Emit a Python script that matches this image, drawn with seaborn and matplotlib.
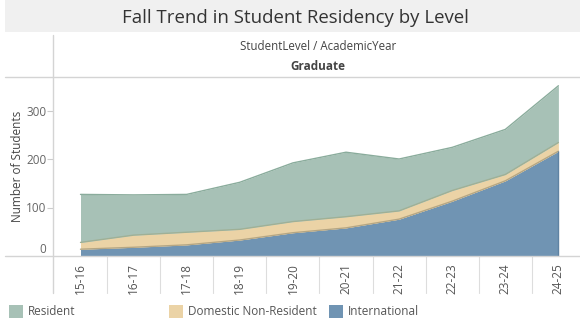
import numpy as np
import pandas as pd
import seaborn as sns
import matplotlib
matplotlib.use("Agg")
import matplotlib.pyplot as plt
from matplotlib.lines import Line2D
from matplotlib.patches import Rectangle
import matplotlib.transforms as mtransforms

years = ["15-16", "16-17", "17-18", "18-19", "19-20", "20-21", "21-22", "22-23", "23-24", "24-25"]
international = [14, 18, 23, 33, 48, 58, 76, 113, 155, 216]
domestic_nonres = [14, 25, 26, 22, 23, 23, 17, 22, 13, 18]
resident = [99, 83, 78, 97, 121, 133, 107, 89, 93, 117]
series_names = ["Resident", "Domestic Non-Resident", "International"]
y_ticks = [0, 100, 200, 300]

fill_colors = {"Resident": "#a7c1b6", "Domestic Non-Resident": "#ebd3a6", "International": "#7094b3"}
edge_colors = {"Resident": "#8aac9c", "Domestic Non-Resident": "#9fb096", "International": "#b5a683"}

sns.set_theme(style="white")
plt.rcParams["font.family"] = ["Open Sans", "DejaVu Sans"]

W, H = 580, 330
fig = plt.figure(figsize=(W / 100, H / 100), dpi=100)

def fx(px):
    return px / W

def fy(py):
    return 1 - py / H

left, right, top, bottom = 53, 580, 77, 256
ax = fig.add_axes([fx(left), fy(bottom), fx(right - left), fy(top) - fy(bottom)])

x = np.arange(len(years))
intl = np.array(international, dtype=float)
dom_top = intl + np.array(domestic_nonres, dtype=float)
res_top = dom_top + np.array(resident, dtype=float)

ax.stackplot(x, intl, np.array(domestic_nonres), np.array(resident),
             colors=[fill_colors["International"], fill_colors["Domestic Non-Resident"], fill_colors["Resident"]],
             linewidth=0)

tops = pd.DataFrame({"year": x, "International": intl, "Domestic Non-Resident": dom_top, "Resident": res_top})
for name in ["International", "Domestic Non-Resident", "Resident"]:
    sns.lineplot(data=tops, x="year", y=name, ax=ax, color=edge_colors[name], linewidth=1.0)
ax.vlines(x[-1], 0, intl[-1], color="#5f83a3", linewidth=1.0)

x_per_px = 1 / 53.1
ax.set_xlim(-(80.5 - left) * x_per_px, (right - 80.5) * x_per_px)
ax.set_ylim(0, (bottom - top) / 0.485)
ax.set_xticks(x)
ax.set_xticklabels(years, rotation=90, fontsize=8.5, color="#555555")
ax.set_yticks(y_ticks)
ax.set_yticklabels([str(v) for v in y_ticks], fontsize=8.5, color="#666666")
ax.tick_params(axis="x", length=0, pad=5)
ax.tick_params(axis="y", length=4.3, width=0.8, color="#cccccc", pad=0.5, left=True)
for lab in ax.get_xticklabels():
    lab.set_verticalalignment("top")
# the zero label sits just above the baseline, without a tick mark
ax.yaxis.get_major_ticks()[0].tick1line.set_visible(False)
zero_lab = ax.get_yticklabels()[0]
zero_lab.set_transform(zero_lab.get_transform() + mtransforms.ScaledTranslation(0, 8 / 100, fig.dpi_scale_trans))
ax.set_xlabel("")
ax.set_ylabel("Number of Students", fontsize=8.5, color="#444444", labelpad=1.5)
for s in ax.spines.values():
    s.set_visible(False)

# category separators beneath the baseline
sep_tr = mtransforms.blended_transform_factory(ax.transData, ax.transAxes)
depth = (293 - bottom) / (bottom - top)
for b in np.arange(0.5, len(years) - 0.5, 1.0):
    ax.add_line(Line2D([b, b], [0, -depth], transform=sep_tr, color="#dddddd", linewidth=0.8, clip_on=False))

# title band and frame lines
fig.patches.append(Rectangle((fx(5), fy(32)), 1 - fx(5), fy(0) - fy(32), transform=fig.transFigure,
                             facecolor="#f0f0f0", edgecolor="none", zorder=0))
fig.text(fx(295), fy(18), "Fall Trend in Student Residency by Level", ha="center", va="center",
         fontsize=13.4, color="#333333")
fig.lines.append(Line2D([fx(5), 1], [fy(77), fy(77)], transform=fig.transFigure, color="#d4d4d4", linewidth=1))
fig.lines.append(Line2D([fx(5), 1], [fy(256), fy(256)], transform=fig.transFigure, color="#d4d4d4", linewidth=1))
fig.lines.append(Line2D([fx(53), fx(53)], [fy(35), fy(293)], transform=fig.transFigure, color="#d4d4d4", linewidth=1))
fig.text(fx(318), fy(47), "StudentLevel / AcademicYear", ha="center", va="center", fontsize=8.3, color="#444444")
fig.text(fx(318), fy(67), "Graduate", ha="center", va="center", fontsize=8.5, color="#444444", fontweight="bold")

# legend row
legend_pos = [("Resident", 9), ("Domestic Non-Resident", 169), ("International", 329)]
for name, px in legend_pos:
    fig.patches.append(Rectangle((fx(px), fy(318)), fx(14), fy(305) - fy(318), transform=fig.transFigure,
                                 facecolor=fill_colors[name], edgecolor="none"))
    fig.text(fx(px + 19), fy(311.5), name, ha="left", va="center", fontsize=8.5, color="#555555")

fig.savefig("out.png", dpi=100)
